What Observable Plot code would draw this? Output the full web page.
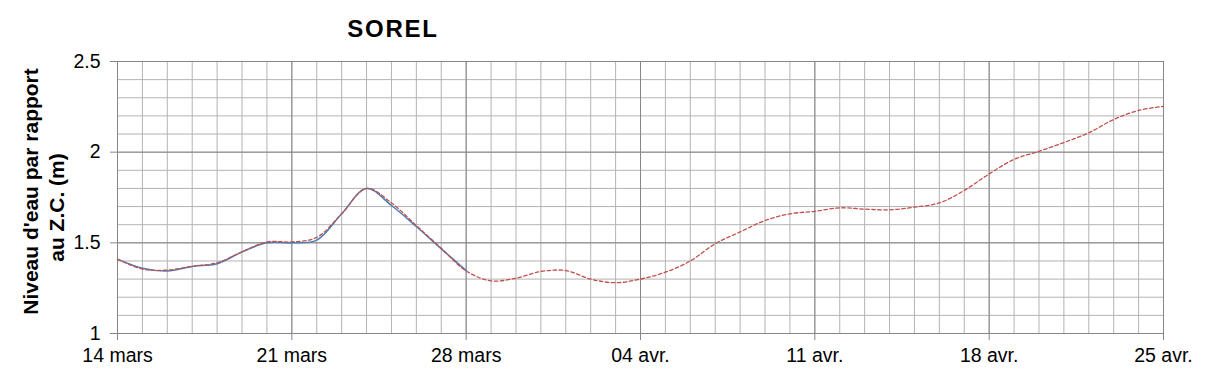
<!DOCTYPE html>
<html><head><meta charset="utf-8">
<script src="https://cdn.jsdelivr.net/npm/d3@7"></script>
<script src="https://cdn.jsdelivr.net/npm/@observablehq/plot@0.6"></script>
<style>body{margin:0;background:#fff} #chart{width:1209px;height:378px}</style>
</head><body><div id="chart"></div>
<script>
const title = "SOREL";
const yLabelLines = ["Niveau d'eau par rapport", "au Z.C. (m)"];
const tickLabels = ["14 mars","21 mars","28 mars","04 avr.","11 avr.","18 avr.","25 avr."];
// daily values starting 14 mars
const observed = [1.41, 1.36, 1.345, 1.37, 1.385, 1.45, 1.50, 1.50, 1.515, 1.66, 1.80, 1.706, 1.59, 1.467, 1.347];
const forecast = [1.41, 1.355, 1.35, 1.37, 1.39, 1.45, 1.505, 1.505, 1.53, 1.66, 1.80, 1.72, 1.595, 1.47, 1.345,
  1.29, 1.305, 1.342, 1.347, 1.30, 1.28, 1.30, 1.338, 1.40, 1.495, 1.56, 1.623, 1.66, 1.674,
  1.693, 1.686, 1.682, 1.697, 1.72, 1.789, 1.88, 1.96, 2.005, 2.053, 2.107, 2.18, 2.23, 2.253];
const yTicks = [1, 1.5, 2, 2.5];

const obsData = observed.map((v, i) => ({day: i, v}));
const fcData = forecast.map((v, i) => ({day: i, v}));
const minorX = d3.range(0, 43, 1);
const majorX = d3.range(0, 43, 7);
const minorY = d3.range(10, 26).map(d => d / 10);

const font = "'Liberation Sans', Arial, sans-serif";
const chart = Plot.plot({
  width: 1209, height: 378,
  marginLeft: 117, marginRight: 46, marginTop: 61, marginBottom: 45,
  style: {fontFamily: font, fontSize: "19px", color: "#000", background: "#fff"},
  x: {domain: [0, 42]},
  y: {domain: [1, 2.5]},
  marks: [
    Plot.ruleX(minorX, {stroke: "#b3b3b3", strokeWidth: 1}),
    Plot.ruleY(minorY, {stroke: "#b3b3b3", strokeWidth: 1}),
    Plot.ruleX(majorX, {stroke: "#868686", strokeWidth: 1}),
    Plot.ruleY(yTicks, {stroke: "#868686", strokeWidth: 1}),
    Plot.axisX(majorX, {tickSize: 7, tickPadding: 8, stroke: "#868686", tickFormat: d => tickLabels[d / 7], fontSize: 19.5, label: null}),
    Plot.axisY(yTicks, {tickSize: 7, tickPadding: 10, stroke: "#868686", tickFormat: d => String(d), fontSize: 19.5, label: null}),
    Plot.line(obsData, {x: "day", y: "v", stroke: "#4a7ebb", strokeWidth: 1.5, curve: "catmull-rom"}),
    Plot.line(fcData, {x: "day", y: "v", stroke: "#c0504d", strokeWidth: 1.3, strokeDasharray: "3.5,2.5", curve: "catmull-rom"}),
    Plot.text([title], {frameAnchor: "top-left", dx: 392.5 - 117, dy: -32, textAnchor: "middle", lineAnchor: "middle",
      fontWeight: "bold", fontSize: 24, fill: "#000"}),
    Plot.text([yLabelLines[0]], {frameAnchor: "left", dx: -86.5, dy: -6, rotate: -90, textAnchor: "middle", lineAnchor: "middle",
      fontWeight: "bold", fontSize: 21, fill: "#000"}),
    Plot.text([yLabelLines[1]], {frameAnchor: "left", dx: -60, dy: 10, rotate: -90, textAnchor: "middle", lineAnchor: "middle",
      fontWeight: "bold", fontSize: 21, fill: "#000"})
  ]
});
d3.select(chart).selectAll("text").filter(function() { return this.textContent === title; })
  .attr("letter-spacing", "1.8px");
document.getElementById("chart").appendChild(chart);
</script>
</body></html>
